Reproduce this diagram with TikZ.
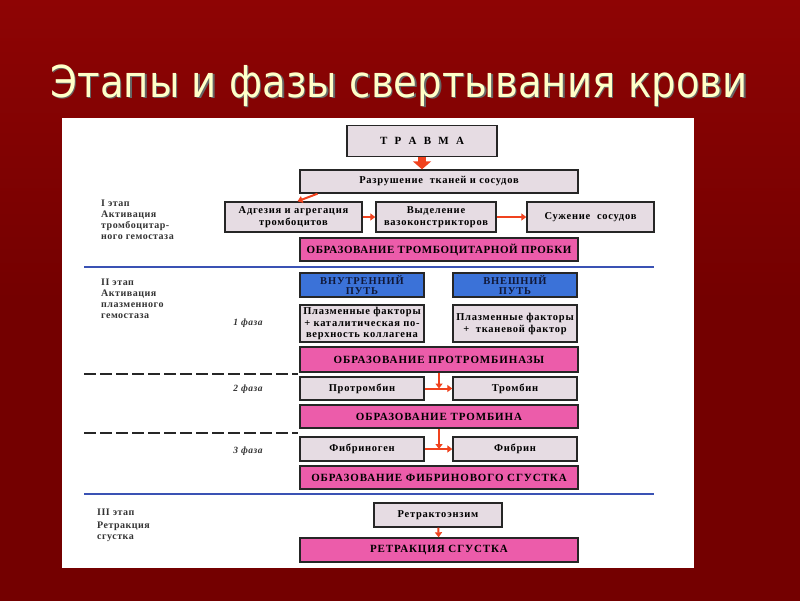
\documentclass[tikz,border=0pt]{standalone}
\usepackage{fontspec}
\setmainfont{Liberation Serif}
\newfontfamily\titlefont[FakeStretch=0.88]{DejaVu Sans}
\newfontfamily\capsfont[LetterSpace=8]{Liberation Serif}
\newfontfamily\capsnarrow[LetterSpace=5]{Liberation Serif}
\newfontfamily\boxfont[LetterSpace=7]{Liberation Serif}
\newfontfamily\lblfont[LetterSpace=5]{Liberation Serif}
\usepackage{xcolor}
\usetikzlibrary{arrows.meta,positioning,calc}
\definecolor{slidered}{HTML}{740000}
\definecolor{slidelight}{HTML}{8E0404}
\definecolor{titlecream}{HTML}{FFFFC8}
\definecolor{boxgray}{HTML}{E6DCE3}
\definecolor{boxpink}{HTML}{EC5CAA}
\definecolor{boxblue}{HTML}{3B72D8}
\definecolor{bluetext}{HTML}{101838}
\definecolor{lineblue}{HTML}{3A52B4}
\definecolor{arrred}{HTML}{F0421E}

\begin{document}
\begin{tikzpicture}[x=1pt,y=-1pt,
  gbox/.style={draw=black!85,fill=boxgray,line width=1.4pt,align=center,inner sep=1pt,
    font=\boxfont\fontsize{10.5}{12}\selectfont\bfseries},
  pbox/.style={gbox,fill=boxpink,minimum width=278pt,font=\capsfont\fontsize{11}{12}\selectfont\bfseries},
  bbox/.style={gbox,fill=boxblue,text=bluetext,minimum width=124pt,minimum height=24pt,inner sep=0pt,font=\capsfont\fontsize{10.5}{10}\selectfont\bfseries},
  lbl/.style={align=left,anchor=north west,inner sep=0pt,text=black!80,font=\lblfont\fontsize{10}{11}\selectfont\bfseries},
  faza/.style={inner sep=0pt,text=black!80,font=\lblfont\fontsize{9.5}{10}\selectfont\bfseries\itshape},
  rarr/.style={draw=arrred,line width=2pt,-{Triangle[length=5pt,width=7pt]}},
  >={Triangle[length=5pt,width=7pt]}]
  % slide background and panel
  \useasboundingbox (0,0) rectangle (800,600);
  \shade[top color=slidelight,bottom color=slidered,middle color=slidered] (0,0) rectangle (800,600);
  \fill[white] (62,118) rectangle (694,568);
  \node[text=black!60,font=\titlefont\fontsize{44}{44}\selectfont,anchor=base] at (400.5,98.5) {Этапы и фазы свертывания крови};
  \node[text=titlecream,font=\titlefont\fontsize{44}{44}\selectfont,anchor=base] (title) at (399,97) {Этапы и фазы свертывания крови};

  % I этап
  \node[gbox,minimum width=150pt,minimum height=31pt,font=\capsfont\fontsize{11}{11}\selectfont\bfseries] (travma) at (422,141) {Т\ \ Р\ \ А\ \ В\ \ М\ \ А};
  \node[gbox,minimum width=278pt,minimum height=23pt] (razr) at (439,181.5) {Разрушение\ \ тканей и сосудов};
  \node[gbox,minimum width=137pt,minimum height=30pt] (adg) at (293.5,217) {Адгезия и агрегация\\тромбоцитов};
  \node[gbox,minimum width=120pt,minimum height=30pt] (vyd) at (436,217) {Выделение\\вазоконстрикторов};
  \node[gbox,minimum width=127pt,minimum height=30pt] (suzh) at (590.5,217) {Сужение\ \ сосудов};
  \node[pbox,minimum height=23pt,font=\capsnarrow\fontsize{11}{12}\selectfont\bfseries] (probka) at (439,249.5) {ОБРАЗОВАНИЕ ТРОМБОЦИТАРНОЙ ПРОБКИ};
  \draw[arrred,line width=8pt,-{Triangle[length=8pt,width=18pt]}] (travma.south) -- (travma.south |- razr.north);
  \draw[rarr] ($(razr.south west)!0.065!(razr.south east)$) -- ($(adg.north)+(4,0)$);
  \draw[rarr] (adg) -- (vyd);
  \draw[rarr] (vyd) -- (suzh);

  % II этап
  \node[bbox] (vnutr) at (362,285) {ВНУТРЕННИЙ\\ПУТЬ};
  \node[bbox] (vnesh) at (515,285) {ВНЕШНИЙ\\ПУТЬ};
  \node[gbox,minimum width=124pt,minimum height=37pt,font=\boxfont\fontsize{10.5}{11.3}\selectfont\bfseries] (plf1) at (362,323.5) {Плазменные факторы\\+ каталитическая по-\\верхность коллагена};
  \node[gbox,minimum width=124pt,minimum height=37pt] (plf2) at (515,323.5) {Плазменные факторы\\+\ \ тканевой фактор};
  \node[pbox,minimum height=25pt] (protrbz) at (439,359.5) {ОБРАЗОВАНИЕ ПРОТРОМБИНАЗЫ};
  \node[gbox,minimum width=124pt,minimum height=23pt] (protr) at (362,388.5) {Протромбин};
  \node[gbox,minimum width=124pt,minimum height=23pt] (tromb) at (515,388.5) {Тромбин};
  \node[pbox,minimum height=23pt] (obrtromb) at (439,416.5) {ОБРАЗОВАНИЕ ТРОМБИНА};
  \node[gbox,minimum width=124pt,minimum height=24pt] (fibrgen) at (362,449) {Фибриноген};
  \node[gbox,minimum width=124pt,minimum height=24pt] (fibr) at (515,449) {Фибрин};
  \node[pbox,minimum height=23pt] (sgust) at (439,477.5) {ОБРАЗОВАНИЕ ФИБРИНОВОГО СГУСТКА};
  \coordinate (j1) at (protrbz.south |- protr.east);
  \coordinate (j2) at (obrtromb.south |- fibrgen.east);
  \draw[rarr] (protrbz.south) -- (j1);
  \draw[rarr] (protr.east) -- (tromb.west);
  \draw[rarr] (obrtromb.south) -- (j2);
  \draw[rarr] (fibrgen.east) -- (fibr.west);

  % III этап
  \node[gbox,minimum width=128pt,minimum height=24pt] (retrz) at (438,515) {Ретрактоэнзим};
  \node[pbox,minimum height=24pt] (retrk) at (439,550) {РЕТРАКЦИЯ СГУСТКА};
  \draw[rarr] (retrz) -- (retrk);

  % separators
  \coordinate (s1a) at (84,267); \coordinate (s1b) at (654,267);
  \coordinate (s2a) at (84,494); \coordinate (s2b) at (654,494);
  \coordinate (d1a) at (84,374); \coordinate (d1b) at (298,374);
  \coordinate (d2a) at (84,433); \coordinate (d2b) at (298,433);
  \draw[lineblue,line width=2pt] (s1a) -- (s1b);
  \draw[lineblue,line width=2pt] (s2a) -- (s2b);
  \draw[black!85,line width=1.3pt,dash pattern=on 12pt off 4pt] (d1a) -- (d1b);
  \draw[black!85,line width=1.3pt,dash pattern=on 12pt off 4pt] (d2a) -- (d2b);

  % left labels
  \node[lbl] (et1) at (101,200) {I этап\\Активация\\тромбоцитар-\\ного гемостаза};
  \node[lbl] (et2) at (101,279) {II этап\\Активация\\плазменного\\гемостаза};
  \node[lbl] (et3) at (97,509) {III этап\\[2pt]Ретракция\\сгустка};
  \node[faza] (f1) at (248,323) {1 фаза};
  \node[faza] (f2) at (248,389) {2 фаза};
  \node[faza] (f3) at (248,451) {3 фаза};
\end{tikzpicture}
\end{document}
